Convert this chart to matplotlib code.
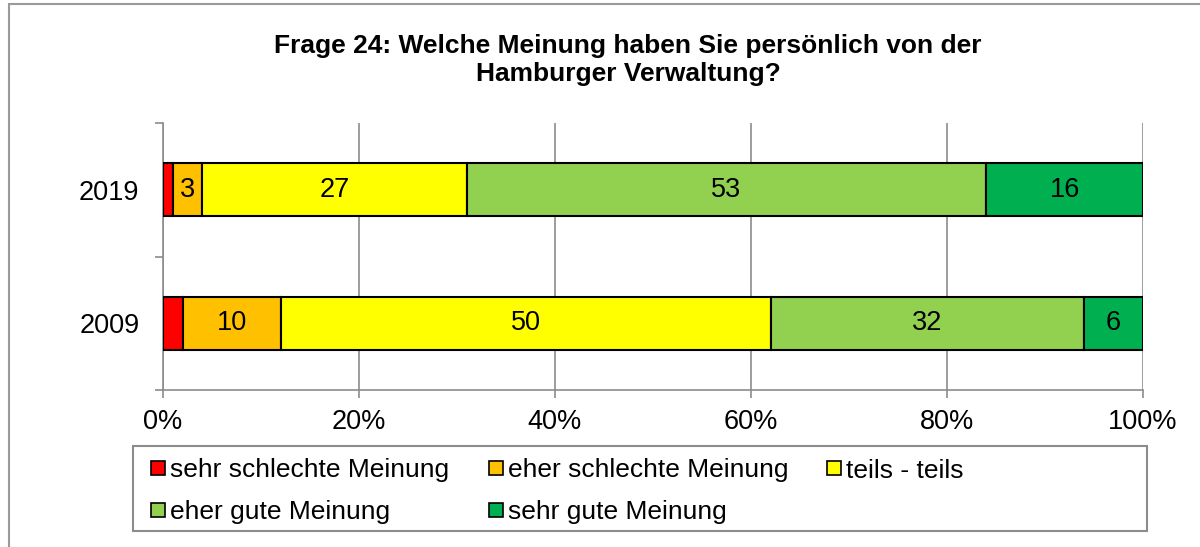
import matplotlib.pyplot as plt
from matplotlib.patches import Rectangle
from matplotlib.ticker import FixedLocator

plt.rcParams['font.family'] = ['Liberation Sans', 'DejaVu Sans']

years = ['2009', '2019']
categories = ['sehr schlechte Meinung', 'eher schlechte Meinung', 'teils - teils',
              'eher gute Meinung', 'sehr gute Meinung']
values_2009 = [2, 10, 50, 32, 6]
values_2019 = [1, 3, 27, 53, 16]
colors = ['#FF0000', '#FFC000', '#FFFF00', '#92D050', '#00B050']

W, H = 1200, 547
fig = plt.figure(figsize=(W / 100, H / 100), dpi=100)
ax = fig.add_axes([163 / W, 1 - 390 / H, 980 / W, 267 / H])


def px(x, y):
    # pixel position (from top-left) -> figure fraction
    return x / W, 1 - y / H


# outer chart frame (partly cut off like in the source)
fig.patches.append(Rectangle(px(9, 600), 1.05, 596 / H,
                             transform=fig.transFigure, fill=False,
                             edgecolor='#9a9a9a', linewidth=1.5, zorder=0))

rows = [values_2009, values_2019]
left = [0, 0]
for i, cat in enumerate(categories):
    vals = [rows[0][i], rows[1][i]]
    bars = ax.barh([0, 1], vals, left=left, height=0.4, color=colors[i],
                   edgecolor='black', linewidth=1.5, zorder=3)
    for b, v in zip(bars, vals):
        if v >= 3:
            ax.text(b.get_x() + b.get_width() / 2, b.get_y() + b.get_height() / 2,
                    str(v), ha='center', va='center', fontsize=19.5, zorder=4)
    left = [left[0] + vals[0], left[1] + vals[1]]

ax.set_xlim(0, 100)
ax.set_ylim(-0.5, 1.5)
ax.set_xticks(range(0, 101, 20))
ax.set_xticklabels([f'{t}%' for t in range(0, 101, 20)], fontsize=19.5)
ax.set_yticks([0, 1])
ax.set_yticklabels(years, fontsize=19.5)
ax.yaxis.set_minor_locator(FixedLocator([-0.5, 0.5, 1.5]))
ax.tick_params(axis='y', which='major', length=0, pad=17)
ax.tick_params(axis='y', which='minor', length=6, color='#8c8c8c', width=1.2)
ax.tick_params(axis='x', length=6, color='#8c8c8c', width=1.2, pad=8)
ax.grid(axis='x', color='#8c8c8c', linewidth=1.2, zorder=0)
for s in ['top', 'right']:
    ax.spines[s].set_visible(False)
for s in ['left', 'bottom']:
    ax.spines[s].set_color('#8c8c8c')
    ax.spines[s].set_linewidth(1.2)

fig.text(*px(628, 60),
         'Frage 24: Welche Meinung haben Sie persönlich von der\nHamburger Verwaltung?',
         ha='center', va='center', fontsize=19, fontweight='bold', linespacing=1.2)

# legend box drawn by hand: three equal columns, filled row by row
fig.patches.append(Rectangle(px(133, 531), 1014 / W, 85 / H,
                             transform=fig.transFigure, fill=False,
                             edgecolor='#8c8c8c', linewidth=1.5))
col_w = 1014 / 3
row_y = [468, 510]
for i, cat in enumerate(categories):
    r, c = divmod(i, 3)
    x0 = 133 + c * col_w + 18
    y0 = row_y[r]
    fig.patches.append(Rectangle(px(x0, y0 + 7), 14 / W, 14 / H,
                                 transform=fig.transFigure, facecolor=colors[i],
                                 edgecolor='black', linewidth=1.2))
    fig.text(*px(x0 + 19, y0), cat, ha='left', va='center_baseline', fontsize=19)

fig.savefig('out.png', dpi=100)
